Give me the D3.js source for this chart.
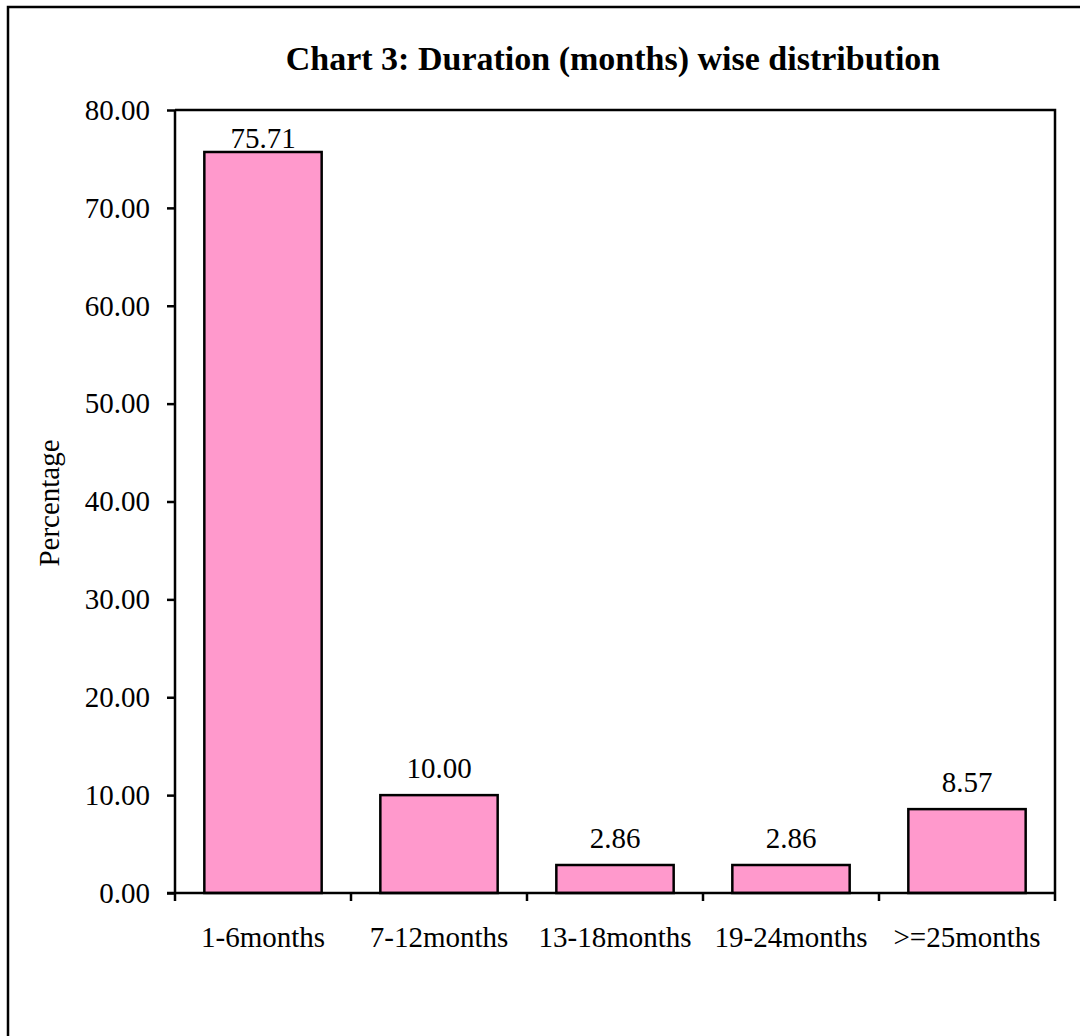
<!DOCTYPE html>
<html><head><meta charset="utf-8">
<script src="https://cdn.jsdelivr.net/npm/d3@7"></script>
<style>html,body{margin:0;padding:0;background:#fff;}svg{display:block;}</style>
</head><body>
<svg id="c" width="1080" height="1036"></svg>
<script>
const categories = ["1-6months","7-12months","13-18months","19-24months",">=25months"];
const values = [75.71, 10.00, 2.86, 2.86, 8.57];
const yTicks = [0,10,20,30,40,50,60,70,80];
const titleText = "Chart 3: Duration (months) wise distribution";
const yLabel = "Percentage";

const svg = d3.select("#c");
const font = "'Liberation Serif','Times New Roman',Times,serif";
const L = 175, T = 110, R = 1055, B = 893;
const fs = 29;

svg.append("rect").attr("x",8).attr("y",7).attr("width",1200).attr("height",1200)
  .attr("fill","#fff").attr("stroke","#000").attr("stroke-width",2.5);

const x = d3.scaleBand().domain(categories).range([L,R]).paddingInner(1/3).paddingOuter(1/6);
const xb = d3.scaleBand().domain(categories).range([L,R]);
const y = d3.scaleLinear().domain([0,80]).range([B,T]);

svg.append("path").attr("d",`M${L},${T}H${R}V${B}`).attr("fill","none").attr("stroke","#000").attr("stroke-width",2.5);

svg.selectAll("rect.bar").data(values).join("rect").attr("class","bar")
  .attr("x",(d,i)=>x(categories[i])).attr("width",x.bandwidth())
  .attr("y",d=>y(d)).attr("height",d=>y(0)-y(d))
  .attr("fill","#FF99CC").attr("stroke","#000").attr("stroke-width",2.5);

const ya = svg.append("g").attr("transform",`translate(${L},0)`)
  .call(d3.axisLeft(y).tickValues(yTicks).tickFormat(d3.format(".2f")).tickSize(8).tickPadding(17));
ya.select(".domain").attr("stroke-width",2.5).attr("d",`M0,${T}V${B}`);
ya.selectAll(".tick line").attr("stroke-width",2.5);
ya.selectAll("text").attr("font-family",font).attr("font-size",fs).attr("fill","#000");

const xa = svg.append("g").attr("transform",`translate(0,${B})`);
xa.append("line").attr("x1",L-8).attr("x2",R).attr("stroke","#000").attr("stroke-width",2.5);
const bounds = categories.map(c=>xb(c)).concat([R]);
xa.selectAll("line.t").data(bounds).join("line").attr("class","t")
  .attr("x1",d=>d).attr("x2",d=>d).attr("y1",0).attr("y2",8).attr("stroke","#000").attr("stroke-width",2.5);
xa.selectAll("text").data(categories).join("text")
  .attr("x",d=>xb(d)+xb.bandwidth()/2).attr("y",54).attr("text-anchor","middle")
  .attr("font-family",font).attr("font-size",fs).attr("fill","#000").text(d=>d);

svg.selectAll("text.v").data(values).join("text").attr("class","v")
  .attr("x",(d,i)=>xb(categories[i])+xb.bandwidth()/2).attr("y",d=>Math.max(y(d)-17, T+38))
  .attr("text-anchor","middle").attr("font-family",font).attr("font-size",fs).attr("fill","#000")
  .text(d=>d3.format(".2f")(d));

svg.append("text").attr("x",613).attr("y",70).attr("text-anchor","middle")
  .attr("font-family",font).attr("font-size",34).attr("font-weight","bold").text(titleText);

svg.append("text").attr("transform","translate(59,503) rotate(-90)").attr("text-anchor","middle")
  .attr("font-family",font).attr("font-size",fs).text(yLabel);
</script>
</body></html>
